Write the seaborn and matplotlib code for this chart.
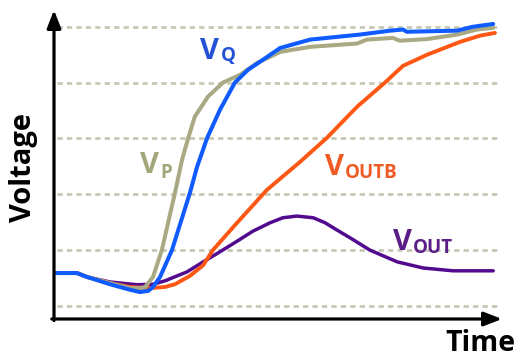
import numpy as np
import pandas as pd
import matplotlib
matplotlib.use("Agg")
import matplotlib.pyplot as plt
import seaborn as sns

# Time axis in ns, voltage in arbitrary grid units (grid at 0..5)
t_vq = [0.05, 0.52, 0.75, 1.27, 1.73, 1.95, 2.14, 2.25, 2.41, 2.68, 3.09, 3.25, 3.48,
        3.77, 4.11, 4.41, 4.75, 5.14, 5.82, 6.95, 7.64, 7.93, 8.02, 9.16, 9.52, 9.98]
v_vq = [0.59, 0.59, 0.52, 0.39, 0.29, 0.25, 0.27, 0.34, 0.52, 1.00, 2.03, 2.49, 3.01,
        3.51, 4.00, 4.23, 4.41, 4.62, 4.77, 4.86, 4.93, 4.95, 4.91, 4.93, 5.00, 5.05]

t_vp = [0.05, 0.52, 0.75, 1.27, 1.73, 1.95, 2.07, 2.25, 2.45, 2.75, 2.91, 3.05, 3.20, 3.50,
        3.84, 4.23, 4.61, 5.14, 5.82, 6.89, 7.11, 7.70, 7.86, 8.48, 9.16, 9.61, 9.98]
v_vp = [0.59, 0.59, 0.52, 0.41, 0.32, 0.32, 0.34, 0.52, 1.00, 2.03, 2.62, 3.01, 3.39, 3.75,
        4.00, 4.14, 4.35, 4.55, 4.64, 4.70, 4.77, 4.80, 4.75, 4.78, 4.86, 4.95, 4.98]

t_voutb = [0.05, 0.52, 0.75, 1.27, 1.73, 2.18, 2.52, 2.75, 3.09, 3.39, 3.61, 4.16, 4.84,
           5.59, 6.20, 6.89, 7.52, 7.93, 8.48, 9.23, 9.68, 10.02]
v_voutb = [0.59, 0.59, 0.52, 0.41, 0.34, 0.32, 0.34, 0.39, 0.54, 0.73, 1.00, 1.49, 2.08,
           2.58, 3.01, 3.57, 4.00, 4.30, 4.50, 4.73, 4.84, 4.89]

t_vout = [0.05, 0.52, 0.75, 1.27, 1.89, 2.25, 2.52, 2.80, 3.02, 3.39, 3.77, 4.16, 4.52,
          4.91, 5.20, 5.52, 5.89, 6.16, 6.43, 6.73, 7.18, 7.80, 8.39, 9.07, 9.98]
v_vout = [0.59, 0.59, 0.52, 0.43, 0.38, 0.39, 0.45, 0.54, 0.61, 0.79, 0.97, 1.16, 1.34,
          1.49, 1.58, 1.61, 1.58, 1.49, 1.36, 1.22, 1.00, 0.79, 0.68, 0.63, 0.63]

grid_levels = [0, 1, 2, 3, 4, 5]

signals = ["VOUT", "VOUTB", "VP", "VQ"]
line_colors = {"VOUT": "#520a8e", "VOUTB": "#ff5714", "VP": "#a9a983", "VQ": "#0f5bff"}
line_widths = {"VOUT": 2.5, "VOUTB": 2.8, "VP": 2.9, "VQ": 2.9}

frames = []
for name, tt, vv in [("VOUT", t_vout, v_vout), ("VOUTB", t_voutb, v_voutb),
                     ("VP", t_vp, v_vp), ("VQ", t_vq, v_vq)]:
    frames.append(pd.DataFrame({"t": tt, "v": vv, "signal": name}))
df = pd.concat(frames, ignore_index=True)

sns.set_theme(style="white")
plt.rcParams["font.family"] = ["Open Sans", "DejaVu Sans"]

fig = plt.figure(figsize=(5.15, 3.57), dpi=100)
ax = fig.add_axes([54 / 515, 1 - 319 / 357, 448 / 515, 309 / 357])
ax.set_xlim(0, 10.18)
ax.set_ylim(-0.233, 5.30)

# dashed reference levels
for g in grid_levels:
    ax.axhline(g, xmin=0.007, xmax=0.989, color="#c6c9b5", lw=2.0,
               linestyle=(0, (1.9, 1.5)), zorder=1)

sns.lineplot(data=df, x="t", y="v", hue="signal", hue_order=signals,
             palette=line_colors, estimator=None, sort=False, legend=False,
             linewidth=2.9, ax=ax, zorder=3)
for line, name in zip(ax.lines[len(grid_levels):], signals):
    line.set_linewidth(line_widths[name])
    line.set_solid_capstyle("round")
    line.set_solid_joinstyle("round")

ax.set_xlabel("")
ax.set_ylabel("")
ax.set_xticks([])
ax.set_yticks([])
for s in ax.spines.values():
    s.set_visible(False)

# axes with arrowheads
arrow = dict(arrowstyle="-|>,head_length=0.9,head_width=0.35", color="black",
             lw=2.3, shrinkA=0, shrinkB=0, mutation_scale=12)
ax.annotate("", xy=(0, 1.0), xytext=(0, -0.005), xycoords="axes fraction",
            arrowprops=arrow, annotation_clip=False)
ax.annotate("", xy=(1.0, 0), xytext=(-0.005, 0), xycoords="axes fraction",
            arrowprops=arrow, annotation_clip=False)

# curve labels: large V with subscript
def label(x, y, sub, xs, ys, color):
    ax.text(x, y, "V", color=color, fontsize=21, fontweight="bold",
            ha="left", va="baseline", zorder=5)
    ax.text(xs, ys, sub, color=color, fontsize=13.5, fontweight="bold",
            ha="left", va="baseline", zorder=5)

label(3.32, 4.43, "Q", 3.80, 4.38, "#2452d6")
label(1.95, 2.38, "P", 2.41, 2.29, "#a3a57a")
label(6.16, 2.35, "OUTB", 6.61, 2.29, "#ef5a25")
label(7.70, 1.00, "OUT", 8.16, 0.95, "#5a1e86")

fig.text(23 / 515, 1 - 168 / 357, "Voltage", rotation=90, fontsize=21,
         fontweight="bold", color="black", ha="center", va="center")
fig.text(445 / 515, 6 / 357, "Time", fontsize=20.5, fontweight="bold",
         color="black", ha="left", va="baseline")

fig.savefig("out.png", dpi=100)
